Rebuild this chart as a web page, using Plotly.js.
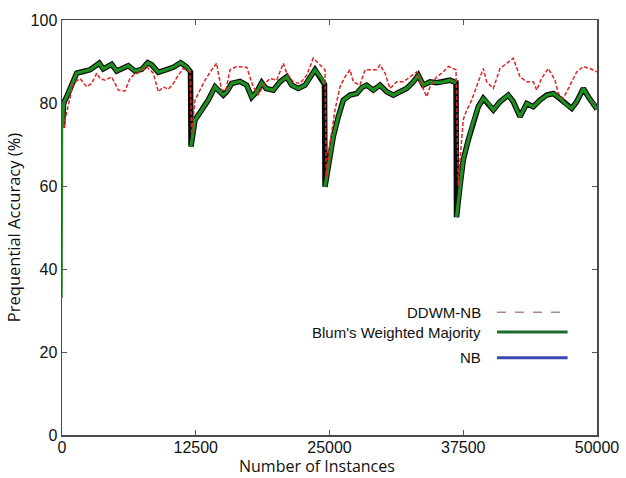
<!DOCTYPE html>
<html>
<head>
<meta charset="utf-8">
<script src="https://cdn.plot.ly/plotly-3.0.1.min.js"></script>
<style>
  html, body { margin: 0; padding: 0; background: #ffffff; }
  #chart { width: 626px; height: 478px; }
</style>
</head>
<body>
<div id="chart"></div>
<script>
// ---- data ----
const xTickVals = [0, 12500, 25000, 37500, 50000];
const xTickText = ["0", "12500", "25000", "37500", "50000"];
const yTickVals = [0, 20, 40, 60, 80, 100];

const seriesNames = ["DDWM-NB", "Blum's Weighted Majority", "NB"];

// Blum's Weighted Majority (green)
const blumX = [0, 50, 150, 439, 748, 1056, 1374, 1991, 2617, 3486, 3860, 4645, 5112, 6196, 6822, 7449, 8009, 8383, 9000, 9626,
  10402, 11093, 11654, 12009, 12056, 12430, 13056, 13673, 14299, 14607, 15075, 15393, 15860, 16636, 17262, 17730, 18196, 18664, 19065, 19748,
  20374, 21000, 21467, 22084, 22710, 23645, 24271, 24533, 24579, 24888, 25355, 25822, 26290, 26916, 27542, 28009, 28477, 29093, 29720, 30346,
  30963, 31589, 32215, 32832, 33299, 33766, 34393, 35019, 35636, 36262, 36822, 36869, 37196, 37505, 37972, 38439, 38907, 39374, 39841, 40308,
  40935, 41710, 42178, 42804, 43430, 44047, 44673, 45299, 45916, 46542, 47168, 47636, 48103, 48720, 49187, 50000];
const blumY = [33, 74, 80, 81.5, 83.5, 85.5, 87.2, 87.6, 88, 89.6, 88.2, 89.3, 87.7, 89, 87.7, 88.1, 89.7, 89.2, 87.4, 87.9,
  88.6, 89.7, 88.7, 87.5, 69.5, 75.9, 78.3, 80.7, 83.9, 83.1, 81.9, 82.7, 84.7, 85.2, 84.3, 81.4, 82.7, 84.9, 83.5, 83.1,
  85.1, 86.3, 84.3, 83.5, 84.3, 88, 85.9, 84.5, 59.8, 64.7, 71.9, 76.7, 80.7, 81.9, 82.3, 83.7, 84.3, 83.1, 84.3, 82.7,
  81.9, 82.7, 83.5, 85.1, 86.7, 84.3, 85.1, 84.9, 85.1, 85.5, 84.9, 52.5, 60, 66.3, 71.1, 75.5, 79.1, 81.1, 79.9, 78.3,
  80.3, 81.9, 80.3, 76.7, 79.9, 79.1, 80.7, 81.9, 82.3, 81.1, 79.5, 78.7, 80.3, 83.5, 81.5, 78.5];

// DDWM-NB (red dashed)
const ddwmX = [187, 280, 589, 1056, 1682, 2308, 2776, 3243, 3551, 4019, 4645, 5262, 5888, 6355, 6664, 7290, 7916, 8533, 9000, 9467,
  9935, 10402, 10869, 11336, 11963, 12121, 12430, 12897, 13364, 13991, 14458, 14607, 14925, 15327, 15701, 16327, 17262, 17879, 18346, 18813,
  19439, 20065, 20682, 21000, 21617, 22243, 22869, 23486, 24112, 24579, 24701, 25047, 25514, 25981, 26449, 26916, 27224, 27850, 28318, 28785,
  29411, 29720, 30187, 30654, 31280, 31897, 32523, 33150, 33617, 34084, 34393, 35019, 35636, 36103, 36822, 37037, 37196, 37505, 37822, 38289,
  38907, 39374, 39692, 40308, 40935, 41561, 42178, 42804, 43430, 44047, 44365, 44832, 45449, 46075, 46383, 46850, 47477, 48103, 48720, 49346, 50000];
const ddwmY = [74, 75.9, 79.5, 84.7, 85.9, 83.9, 84.7, 87.2, 85.9, 85.5, 86.3, 83.1, 82.9, 85.9, 86.7, 87.5, 88.7, 87.2, 82.7, 83.9,
  83.3, 84.7, 86.7, 88.3, 87.5, 72.5, 80.7, 83.1, 85.5, 88, 89.6, 87.2, 83.1, 83.1, 88, 88.8, 88.6, 83.9, 81.9, 84.3,
  85.9, 85.5, 89.6, 87.2, 85.1, 84.7, 86.7, 90.8, 89.2, 88, 62.2, 70.3, 78.3, 83.9, 86.3, 88, 85.1, 84.3, 88, 88,
  88, 89.2, 87.2, 83.5, 85.1, 85.1, 86.3, 87.5, 84.3, 81.5, 83.9, 86.3, 87.5, 88.8, 88, 60, 66.3, 76, 78.3, 80.7,
  85.1, 88.3, 85.1, 83.5, 88.3, 89.6, 90.8, 86.3, 85.1, 85.1, 83.1, 86, 88.3, 85.5, 82.3, 81.1, 84.3, 87.5, 88.8, 88.3, 87.5];

// ---- green fill trace: break the line at the sudden drops so the drop is drawn by the black edge only ----
const greenX = [], greenY = [];
for (let i = 0; i < blumX.length; i++) {
  if (i > 0 && blumY[i - 1] - blumY[i] > 10) { greenX.push(null); greenY.push(null); }
  greenX.push(blumX[i]); greenY.push(blumY[i]);
}

const traces = [
  // thin start segment (warm-up) along the axis
  { x: blumX.slice(0, 2), y: blumY.slice(0, 2), type: 'scatter', mode: 'lines', name: seriesNames[1] + ' start',
    line: { color: '#1f8f1f', width: 1.5 }, showlegend: false, hoverinfo: 'skip' },
  { x: blumX.slice(1), y: blumY.slice(1), type: 'scatter', mode: 'lines', name: seriesNames[1] + ' edge',
    line: { color: '#0a0a0a', width: 5.5 }, showlegend: false, hoverinfo: 'skip' },
  { x: greenX.slice(1), y: greenY.slice(1), type: 'scatter', mode: 'lines', name: seriesNames[1],
    line: { color: '#1f8f1f', width: 3.2 }, connectgaps: false, showlegend: false },
  { x: ddwmX, y: ddwmY, type: 'scatter', mode: 'lines', name: seriesNames[0],
    line: { color: '#e02424', width: 1.5, dash: '4px,2px' }, showlegend: false }
];

// ---- manual legend (text left of the line sample, as in the reference) ----
const legendRows = [
  { text: seriesNames[0], y: 0.296, color: '#b08888', dash: 'dash', width: 1.5 },
  { text: seriesNames[1], y: 0.248, color: '#1d6b2c', dash: 'solid', width: 3 },
  { text: seriesNames[2], y: 0.186, color: '#3a46b0', dash: 'solid', width: 3 }
];
const annotations = legendRows.map(r => ({
  xref: 'paper', yref: 'paper', x: 0.787, y: r.y, xanchor: 'right', yanchor: 'middle',
  text: r.text, showarrow: false,
  font: { family: 'Liberation Sans, Arial, sans-serif', size: 15, color: '#111111' }
}));
annotations.push({
  xref: 'paper', yref: 'paper', x: 0.477, y: -0.074, xanchor: 'center', yanchor: 'middle',
  text: 'Number of Instances', showarrow: false, borderpad: 0,
  font: { family: 'Open Sans, sans-serif', size: 16, color: '#111111' }
});
const shapes = legendRows.map(r => ({
  type: 'line', xref: 'paper', yref: 'paper', x0: 0.813, x1: 0.945, y0: r.y, y1: r.y,
  line: { color: r.color, width: r.width, dash: r.dash }
}));

const axisFont = { family: 'Liberation Sans, Arial, sans-serif', size: 16, color: '#111111' };
const titleFont = { family: 'Open Sans, sans-serif', size: 16.5, color: '#111111' };

const layout = {
  width: 626, height: 478,
  margin: { l: 62, r: 29, t: 20, b: 43, pad: 0 },
  paper_bgcolor: '#ffffff', plot_bgcolor: '#ffffff',
  showlegend: false,
  xaxis: {
    range: [0, 50000], tickvals: xTickVals, ticktext: xTickText,
    ticks: 'inside', ticklen: 5, tickcolor: '#555555', tickwidth: 1,
    showline: true, linecolor: '#4a4a4a', linewidth: 1.5, mirror: 'ticks',
    showgrid: false, zeroline: false, tickfont: axisFont, ticklabelstandoff: -3
  },
  yaxis: {
    range: [0, 100], tickvals: yTickVals,
    ticks: 'inside', ticklen: 5, tickcolor: '#555555', tickwidth: 1,
    showline: true, linecolor: '#4a4a4a', linewidth: 1.5, mirror: 'ticks',
    showgrid: false, zeroline: false, tickfont: axisFont,
    title: { text: 'Prequential Accuracy (%)', font: titleFont, standoff: 6 }
  },
  annotations: annotations,
  shapes: shapes
};

Plotly.newPlot('chart', traces, layout, { displayModeBar: false, staticPlot: true });
</script>
</body>
</html>
